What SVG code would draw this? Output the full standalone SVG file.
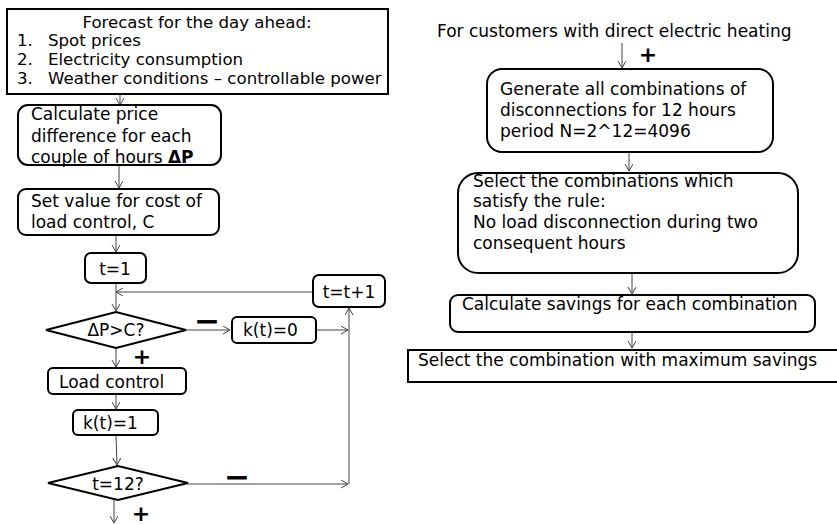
<svg xmlns="http://www.w3.org/2000/svg" width="837" height="525" viewBox="0 0 837 525">
  <style>
    .box { fill: #fff; stroke: #000; stroke-width: 2; }
    .t { font-family: "DejaVu Sans", Verdana, sans-serif; font-size: 17px; fill: #000; }
    .s16 { font-size: 16.6px; }
    .sign { font-family: "DejaVu Sans", sans-serif; font-weight: bold; fill: #000; }
    .wire { fill: none; stroke: #444; stroke-width: 1; }
  </style>
  <defs>
    <marker id="arrow" markerUnits="userSpaceOnUse" markerWidth="10" markerHeight="10" refX="7" refY="4" orient="auto">
      <path d="M0,0 L7,4 L0,8" fill="none" stroke="#444" stroke-width="1"/>
    </marker>
  </defs>

  <rect width="837" height="525" fill="#fff"/>

  <!-- connectors -->
  <g id="connectors" class="wire">
    <line x1="120" y1="94" x2="120" y2="105" marker-end="url(#arrow)"/>
    <line x1="119" y1="165" x2="119" y2="188" marker-end="url(#arrow)"/>
    <line x1="116" y1="235" x2="116" y2="252" marker-end="url(#arrow)"/>
    <line x1="116" y1="283" x2="116" y2="311" marker-end="url(#arrow)"/>
    <line x1="313" y1="292" x2="116" y2="292" marker-end="url(#arrow)"/>
    <line x1="186" y1="330" x2="230" y2="330" marker-end="url(#arrow)"/>
    <line x1="316" y1="330" x2="348" y2="330" marker-end="url(#arrow)"/>
    <line x1="188" y1="484" x2="348" y2="484" marker-end="url(#arrow)"/>
    <line x1="349" y1="484" x2="349" y2="308" marker-end="url(#arrow)"/>
    <line x1="116" y1="348" x2="116" y2="367" marker-end="url(#arrow)"/>
    <line x1="116" y1="394" x2="116" y2="409" marker-end="url(#arrow)"/>
    <line x1="116" y1="435" x2="117" y2="465" marker-end="url(#arrow)"/>
    <line x1="114" y1="500" x2="114" y2="523" marker-end="url(#arrow)"/>
    <line x1="622" y1="43" x2="622" y2="68" marker-end="url(#arrow)"/>
    <line x1="629" y1="152" x2="629" y2="171" marker-end="url(#arrow)"/>
    <line x1="632" y1="273" x2="632" y2="294" marker-end="url(#arrow)"/>
    <line x1="632" y1="332" x2="632" y2="348" marker-end="url(#arrow)"/>
  </g>

  <!-- branch signs -->
  <g id="signs" class="sign">
    <text x="207" y="328" font-size="21" text-anchor="middle" stroke="#000" stroke-width="0.8">—</text>
    <text x="142" y="364" font-size="22" text-anchor="middle">+</text>
    <text x="237" y="484" font-size="21" text-anchor="middle" stroke="#000" stroke-width="0.8">—</text>
    <text x="141" y="521" font-size="22" text-anchor="middle">+</text>
    <text x="648" y="62" font-size="22" text-anchor="middle">+</text>
  </g>

  <!-- left flow -->
  <g id="forecast">
    <rect class="box" x="7" y="9" width="381" height="85"/>
    <text class="t s16" x="197" y="28" text-anchor="middle">Forecast for the day ahead:</text>
    <text class="t s16" x="17" y="46">1.</text>
    <text class="t s16" x="48" y="46">Spot prices</text>
    <text class="t s16" x="17" y="65">2.</text>
    <text class="t s16" x="48" y="65">Electricity consumption</text>
    <text class="t s16" x="17" y="84">3.</text>
    <text class="t s16" x="48" y="84">Weather conditions – controllable power</text>
  </g>

  <g id="price-difference">
    <rect class="box" x="18" y="105" width="203" height="60" rx="10"/>
    <text class="t" x="31" y="120">Calculate price</text>
    <text class="t" x="31" y="142">difference for each</text>
    <text class="t" x="31" y="163">couple of hours <tspan font-weight="bold">ΔP</tspan></text>
  </g>

  <g id="control-cost">
    <rect class="box" x="18" y="189" width="201" height="46" rx="8"/>
    <text class="t" x="31" y="207">Set value for cost of</text>
    <text class="t" x="31" y="228">load control, C</text>
  </g>

  <g id="t-init">
    <rect class="box" x="85" y="253" width="61" height="30" rx="6"/>
    <text class="t" x="115" y="275" text-anchor="middle">t=1</text>
  </g>

  <g id="t-next">
    <rect class="box" x="313" y="275" width="72" height="32" rx="6"/>
    <text class="t" x="349" y="298" text-anchor="middle">t=t+1</text>
  </g>

  <g id="check-price">
    <polygon class="box" points="46,330 116,312 186,330 116,348"/>
    <text class="t" x="116" y="336" text-anchor="middle">ΔP&gt;C?</text>
  </g>

  <g id="k-zero">
    <rect class="box" x="232" y="317" width="84" height="26" rx="5"/>
    <text class="t" x="243" y="336">k(t)=0</text>
  </g>

  <g id="load-control">
    <rect class="box" x="48" y="368" width="138" height="26" rx="5"/>
    <text class="t" x="59" y="388">Load control</text>
  </g>

  <g id="k-one">
    <rect class="box" x="73" y="410" width="85" height="25" rx="5"/>
    <text class="t" x="83" y="429">k(t)=1</text>
  </g>

  <g id="check-hour">
    <polygon class="box" points="48,483 118,466 188,483 118,500"/>
    <text class="t" x="118" y="490" text-anchor="middle">t=12?</text>
  </g>

  <!-- right flow -->
  <g id="heating-title">
    <text class="t" x="437" y="37">For customers with direct electric heating</text>
  </g>

  <g id="generate">
    <rect class="box" x="487" y="69" width="286" height="83" rx="15"/>
    <text class="t" x="500" y="95">Generate all combinations of</text>
    <text class="t" x="500" y="116">disconnections for 12 hours</text>
    <text class="t" x="500" y="137">period N=2^12=4096</text>
  </g>

  <g id="select-rule">
    <rect class="box" x="458" y="173" width="340" height="100" rx="20"/>
    <text class="t" x="473" y="187">Select the combinations which</text>
    <text class="t" x="473" y="207">satisfy the rule:</text>
    <text class="t" x="473" y="228">No load disconnection during two</text>
    <text class="t" x="473" y="249">consequent hours</text>
  </g>

  <g id="savings">
    <rect class="box" x="450" y="295" width="365" height="37" rx="8"/>
    <text class="t" x="462" y="310">Calculate savings for each combination</text>
  </g>

  <g id="select-max">
    <rect class="box" x="408" y="350" width="440" height="32"/>
    <text class="t" x="418" y="366">Select the combination with maximum savings</text>
  </g>
</svg>
